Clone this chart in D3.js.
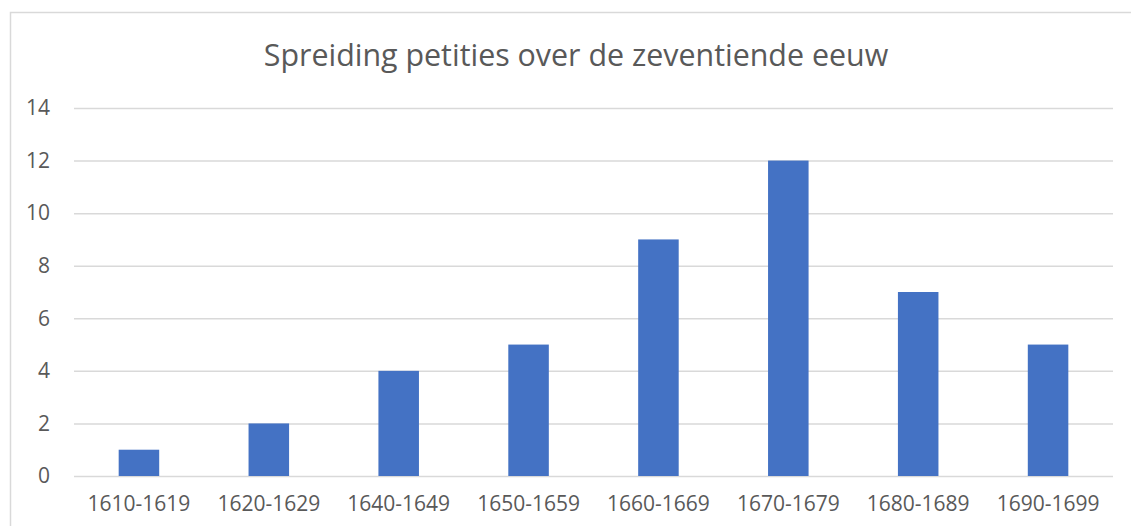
<!DOCTYPE html>
<html>
<head>
<meta charset="utf-8">
<script src="https://cdn.jsdelivr.net/npm/d3@7"></script>
<style>
  html, body { margin: 0; padding: 0; background: #fff; }
  text { font-family: "Open Sans", "Liberation Sans", sans-serif; fill: #595959; }
</style>
</head>
<body>
<svg id="canvas" width="1131" height="526"></svg>
<script>
/** Chart data */
const periods = ['1610-1619', '1620-1629', '1640-1649', '1650-1659', '1660-1669', '1670-1679', '1680-1689', '1690-1699'];
const petitions = [1, 2, 4, 5, 9, 12, 7, 5];
const yTicks = [0, 2, 4, 6, 8, 10, 12, 14];
const chartTitle = 'Spreiding petities over de zeventiende eeuw';

let canvas = d3.select('#canvas');

/** Plot area */
const plotLeft = 74, plotRight = 1113, plotTop = 108, plotBottom = 476;

/** Outer chart border */
canvas.append('rect')
    .attr('x', 10.5)
    .attr('y', 12.5)
    .attr('width', 1140)
    .attr('height', 540)
    .attr('fill', '#fff')
    .attr('stroke', '#d9d9d9')
    .attr('stroke-width', 1.5);

/** Scales */
let xScale = d3.scaleBand()
    .domain(periods)
    .range([plotLeft, plotRight])
    .paddingInner(0.688)
    .paddingOuter(0.344);

let yScale = d3.scaleLinear()
    .domain([0, 14])
    .range([plotBottom, plotTop]);

/** Gridlines and y labels */
let yAxis = d3.axisLeft(yScale)
    .tickValues(yTicks)
    .tickSize(-(plotRight - plotLeft))
    .tickPadding(24);

canvas.append('g')
    .attr('transform', `translate(${plotLeft},0)`)
    .call(yAxis)
    .call(g => g.select('.domain').remove())
    .call(g => g.selectAll('.tick line').attr('stroke', '#d9d9d9').attr('stroke-width', 1.5))
    .call(g => g.selectAll('.tick text')
        .attr('font-size', 21)
        .style('font-family', '"Open Sans", sans-serif')
        .attr('fill', '#595959'));

/** Bars */
canvas.selectAll('.bar')
    .data(petitions)
    .enter()
    .append('rect')
    .attr('class', 'bar')
    .attr('x', (d, i) => xScale(periods[i]))
    .attr('y', (d) => yScale(d))
    .attr('width', xScale.bandwidth())
    .attr('height', (d) => yScale(0) - yScale(d))
    .attr('fill', '#4472c4');

/** X labels */
let xAxis = d3.axisBottom(xScale)
    .tickSize(0)
    .tickPadding(20);

canvas.append('g')
    .attr('transform', `translate(0,${plotBottom})`)
    .call(xAxis)
    .call(g => g.select('.domain').remove())
    .call(g => g.selectAll('.tick text')
        .attr('font-size', 21)
        .style('font-family', '"Open Sans", sans-serif')
        .attr('fill', '#595959'));

/** Title */
canvas.append('text')
    .attr('x', 576)
    .attr('y', 66)
    .attr('text-anchor', 'middle')
    .attr('font-size', 30.4)
    .text(chartTitle);
</script>
</body>
</html>
